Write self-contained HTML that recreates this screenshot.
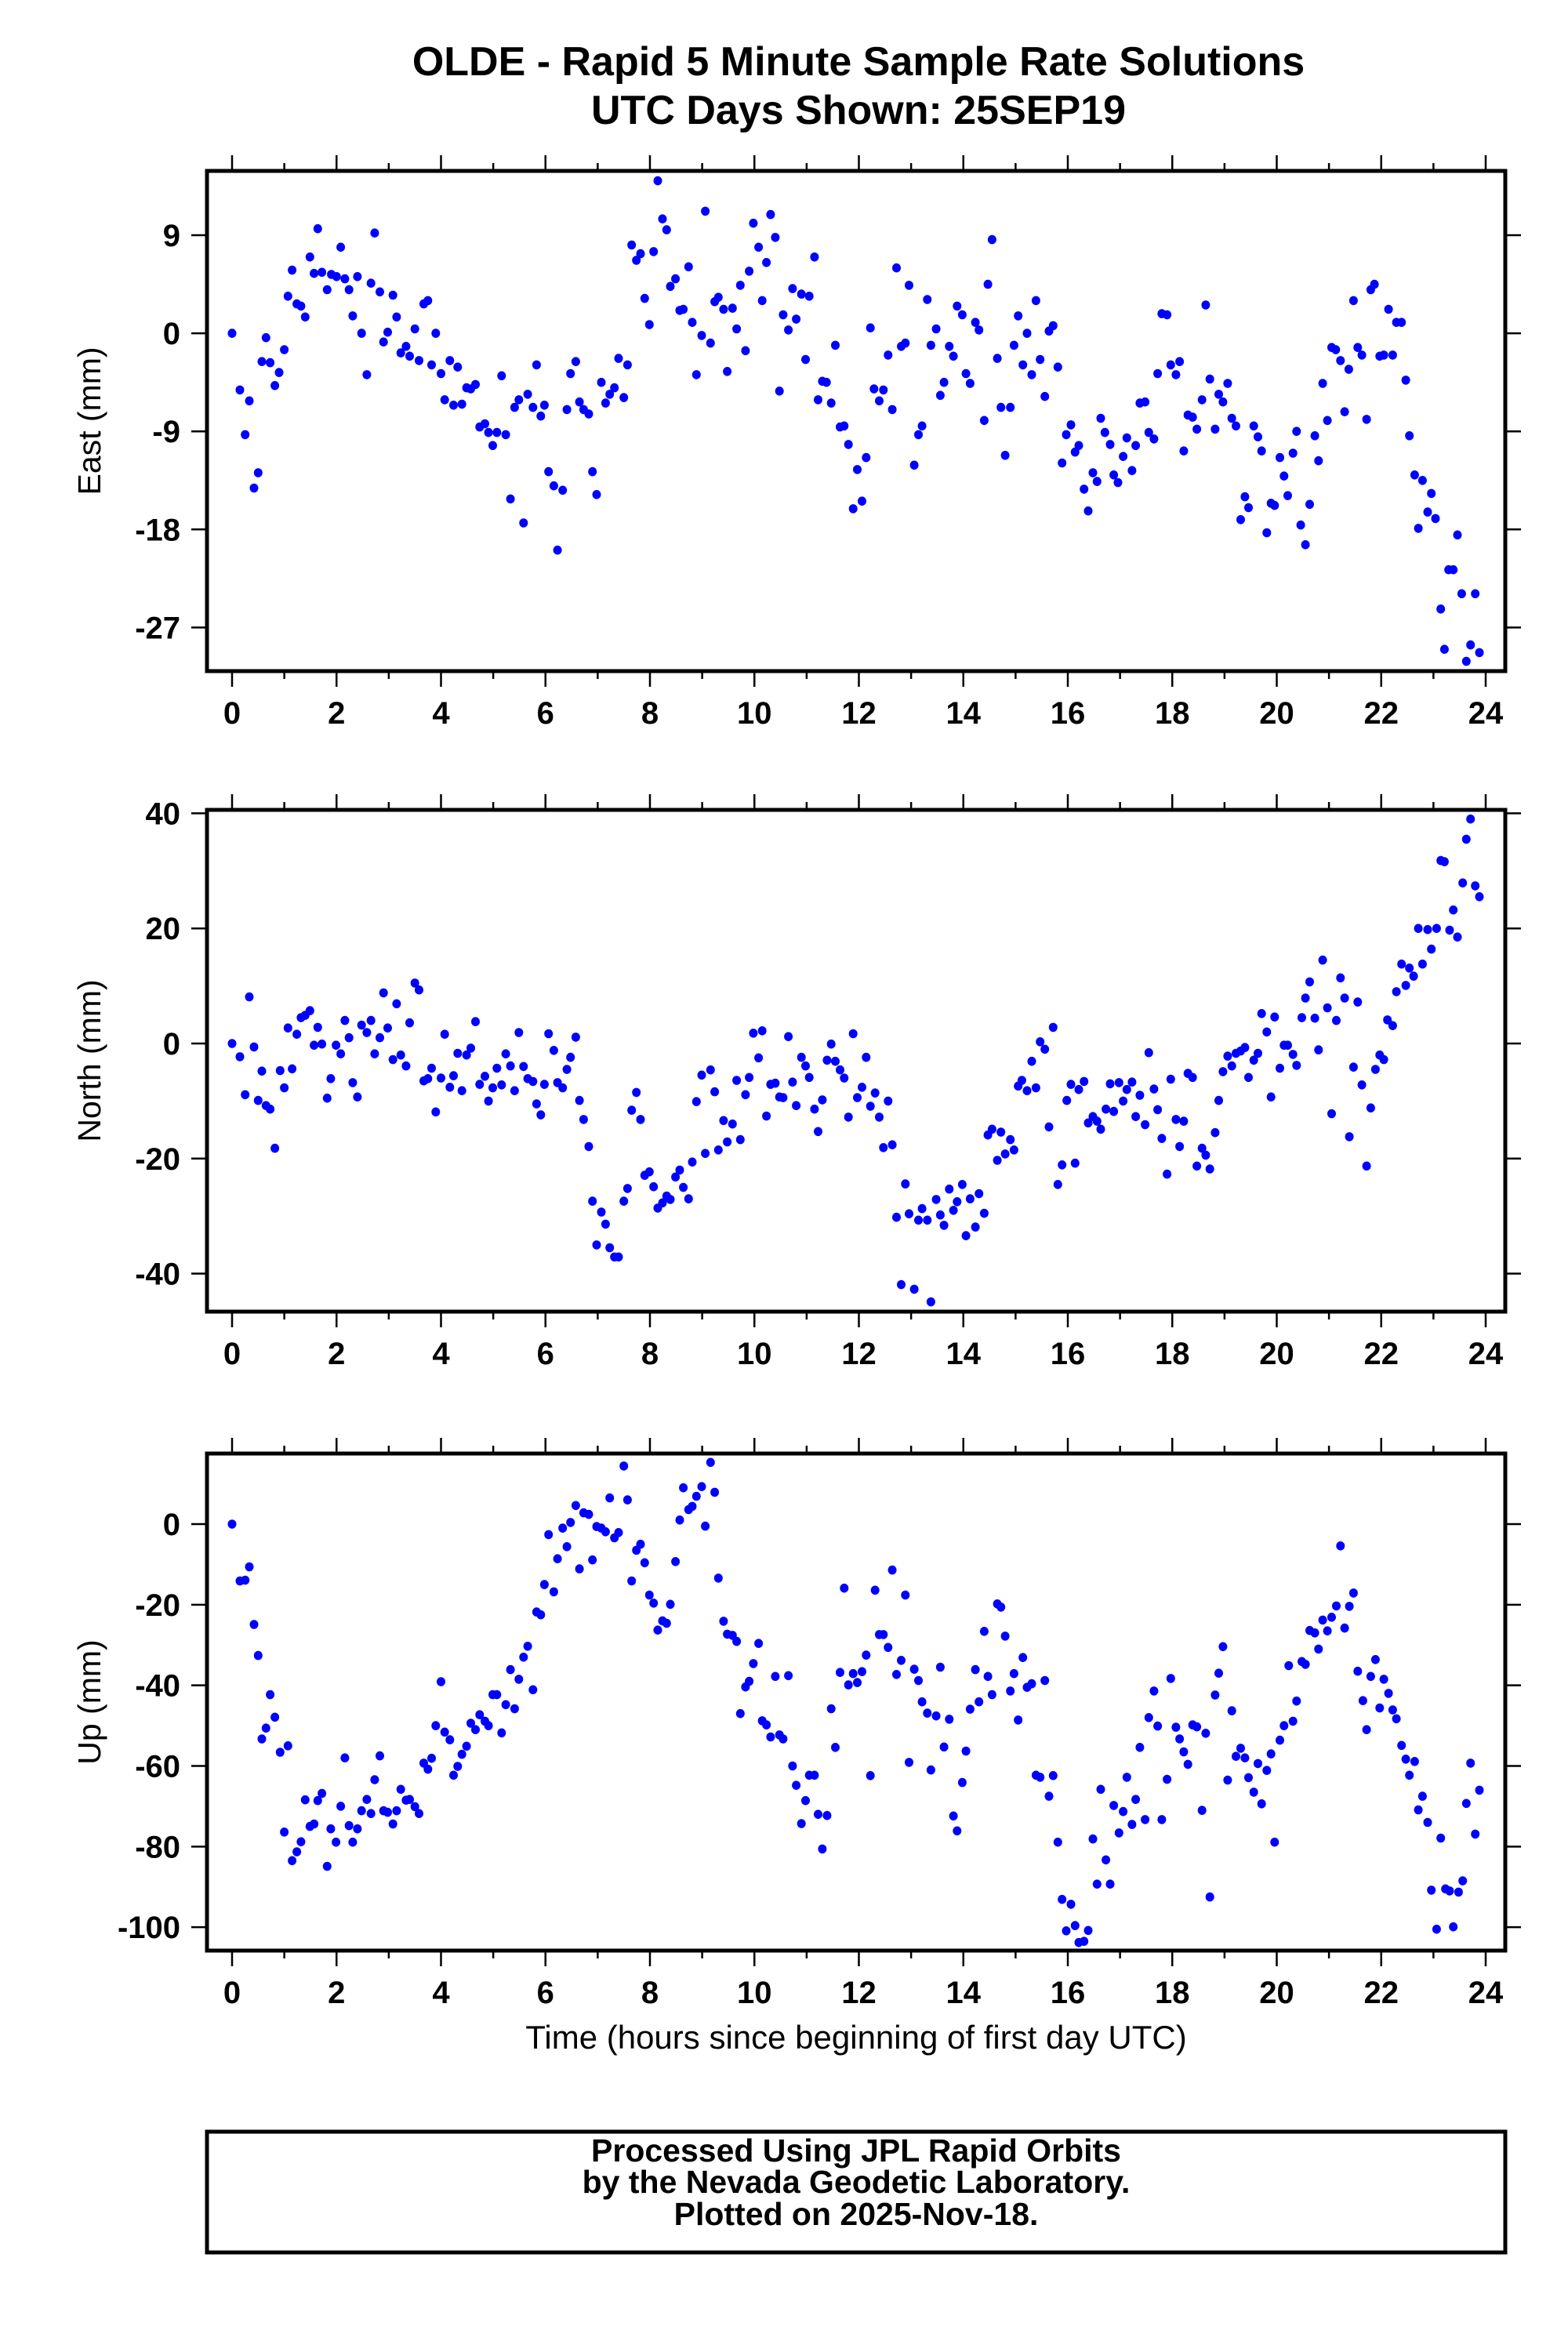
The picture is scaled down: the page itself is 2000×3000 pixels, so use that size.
<!DOCTYPE html>
<html><head><meta charset="utf-8"><style>
html,body{margin:0;padding:0;background:#fff}
svg{display:block}
text{font-family:"Liberation Sans",Arial,sans-serif}
</style></head><body>
<svg id="chart" width="2000" height="3000" viewBox="0 0 2000 3000" xmlns="http://www.w3.org/2000/svg">
<rect x="0" y="0" width="2000" height="3000" fill="#fff"/>
<text x="1095" y="96" font-size="52" font-weight="bold" text-anchor="middle">OLDE - Rapid 5 Minute Sample Rate Solutions</text>
<text x="1095" y="158" font-size="52" font-weight="bold" text-anchor="middle">UTC Days Shown:  25SEP19</text>
<text x="1092" y="2613" font-size="42" text-anchor="middle">Time (hours since beginning of first day UTC)</text>
<rect x="264" y="2719" width="1656" height="154" fill="none" stroke="#000" stroke-width="5"/>
<text x="1092" y="2757" font-size="41" font-weight="bold" text-anchor="middle">Processed Using JPL Rapid Orbits</text>
<text x="1092" y="2797" font-size="41" font-weight="bold" text-anchor="middle">by the Nevada Geodetic Laboratory.</text>
<text x="1092" y="2838" font-size="41" font-weight="bold" text-anchor="middle">Plotted on 2025-Nov-18.</text>
<g id="panels"></g>
</svg>
<script>
const xTickLabels = ["0","2","4","6","8","10","12","14","16","18","20","22","24"];
const eastTicks = [9,0,-9,-18,-27];
const northTicks = [40,20,0,-20,-40];
const upTicks = [0,-20,-40,-60,-80,-100];

const eastT = [0,0.15,0.25,0.33,0.42,0.5,0.57,0.65,0.73,0.82,0.9,1.0,1.07,1.15,1.24,1.32,1.4,1.49,1.57,1.64,1.72,1.82,1.9,2.0,2.08,2.16,2.24,2.31,2.4,2.48,2.58,2.66,2.73,2.83,2.9,2.98,3.08,3.15,3.23,3.33,3.4,3.5,3.58,3.67,3.75,3.82,3.9,4.0,4.07,4.17,4.24,4.32,4.4,4.49,4.57,4.66,4.74,4.84,4.91,4.99,5.07,5.16,5.24,5.33,5.41,5.49,5.58,5.66,5.76,5.83,5.91,5.98,6.06,6.16,6.23,6.33,6.41,6.48,6.58,6.65,6.73,6.83,6.9,6.98,7.07,7.15,7.23,7.32,7.4,7.5,7.57,7.65,7.74,7.82,7.9,7.99,8.07,8.15,8.24,8.32,8.39,8.49,8.57,8.64,8.74,8.81,8.89,8.99,9.06,9.16,9.24,9.31,9.41,9.48,9.58,9.66,9.73,9.83,9.9,9.98,10.08,10.15,10.23,10.31,10.4,10.48,10.55,10.65,10.73,10.8,10.9,10.98,11.05,11.15,11.22,11.3,11.38,11.47,11.55,11.64,11.72,11.8,11.89,11.97,12.06,12.14,12.22,12.29,12.39,12.47,12.56,12.64,12.72,12.81,12.89,12.96,13.06,13.14,13.21,13.31,13.38,13.48,13.56,13.63,13.73,13.81,13.88,13.98,14.05,14.13,14.23,14.3,14.4,14.47,14.55,14.65,14.72,14.8,14.9,14.97,15.05,15.14,15.22,15.31,15.39,15.47,15.56,15.64,15.72,15.81,15.89,15.97,16.06,16.14,16.21,16.31,16.39,16.48,16.56,16.63,16.71,16.81,16.88,16.96,17.06,17.13,17.23,17.3,17.38,17.48,17.55,17.65,17.72,17.8,17.9,17.97,18.07,18.14,18.22,18.3,18.39,18.47,18.57,18.64,18.72,18.82,18.89,18.97,19.06,19.14,19.22,19.31,19.39,19.46,19.56,19.64,19.71,19.81,19.89,19.96,20.06,20.14,20.21,20.31,20.38,20.46,20.55,20.63,20.73,20.8,20.88,20.97,21.05,21.13,21.22,21.3,21.38,21.47,21.55,21.63,21.72,21.8,21.87,21.97,22.05,22.14,22.22,22.29,22.39,22.47,22.54,22.64,22.71,22.79,22.89,22.96,23.04,23.14,23.21,23.29,23.38,23.46,23.54,23.63,23.71,23.8,23.88];
const eastV = [0,-5.2,-9.3,-6.2,-14.2,-12.8,-2.6,-0.4,-2.7,-4.8,-3.6,-1.5,3.4,5.8,2.7,2.5,1.5,7.0,5.5,9.6,5.6,4.0,5.4,5.2,7.9,5.0,4.0,1.6,5.2,0,-3.8,4.6,9.2,3.8,-0.8,0.1,3.5,1.5,-1.8,-1.2,-2.1,0.4,-2.5,2.7,3.0,-2.9,0,-3.7,-6.1,-2.5,-6.6,-3.1,-6.5,-5.0,-5.1,-4.7,-8.6,-8.3,-9.1,-10.3,-9.1,-3.9,-9.3,-15.2,-6.8,-6.1,-17.4,-5.6,-6.8,-2.9,-7.6,-6.6,-12.7,-14.0,-19.9,-14.4,-7.0,-3.7,-2.6,-6.3,-7.0,-7.4,-12.7,-14.8,-4.5,-6.4,-5.6,-5.0,-2.3,-5.9,-2.9,8.1,6.7,7.3,3.2,0.8,7.5,14.0,10.5,9.5,4.3,5.0,2.1,2.2,6.1,1.0,-3.8,-0.2,11.2,-0.9,2.9,3.3,2.2,-3.5,2.3,0.4,4.4,-1.6,5.7,10.1,7.9,3.0,6.5,10.9,8.8,-5.3,1.7,0.3,4.1,1.3,3.6,-2.4,3.4,7.0,-6.1,-4.4,-4.5,-6.4,-1.1,-8.6,-8.5,-10.2,-16.1,-12.5,-15.4,-11.4,0.5,-5.1,-6.2,-5.2,-2.0,-7.0,6.0,-1.2,-0.9,4.4,-12.1,-9.3,-8.5,3.1,-1.1,0.4,-5.7,-4.5,-1.2,-2.1,2.5,1.7,-3.7,-4.6,1.0,0.3,-8.0,4.5,8.6,-2.3,-6.8,-11.2,-6.8,-1.1,1.6,-2.9,0,-3.8,3.0,-2.4,-5.8,0.2,0.7,-3.1,-11.9,-9.3,-8.4,-10.9,-10.3,-14.3,-16.3,-12.8,-13.6,-7.8,-9.1,-10.2,-13.0,-13.7,-11.3,-9.6,-12.6,-10.3,-6.4,-6.3,-9.1,-9.7,-3.7,1.8,1.7,-2.9,-3.8,-2.6,-10.8,-7.5,-7.7,-8.8,-6.1,2.6,-4.2,-8.8,-5.6,-6.3,-4.6,-7.8,-8.5,-17.1,-15.0,-16.0,-8.5,-9.5,-10.8,-18.3,-15.6,-15.8,-11.4,-13.1,-14.9,-11.0,-9.0,-17.6,-19.4,-15.7,-9.4,-11.7,-4.6,-8.0,-1.3,-1.5,-2.5,-7.2,-3.3,3.0,-1.3,-2.0,-7.9,4.0,4.5,-2.1,-2.0,2.2,-2.0,1.0,1.0,-4.3,-9.4,-13.0,-17.9,-13.5,-16.4,-14.7,-17.0,-25.3,-29.0,-21.7,-21.7,-18.5,-23.9,-30.1,-28.6,-23.9,-29.3];

const northT = [0,0.15,0.25,0.33,0.42,0.5,0.57,0.65,0.73,0.82,0.92,1.0,1.07,1.15,1.24,1.32,1.4,1.49,1.57,1.64,1.72,1.82,1.89,1.99,2.08,2.16,2.24,2.31,2.4,2.48,2.58,2.66,2.73,2.83,2.9,2.98,3.08,3.15,3.23,3.33,3.4,3.5,3.58,3.67,3.75,3.82,3.9,4.0,4.07,4.17,4.24,4.32,4.4,4.49,4.57,4.66,4.74,4.84,4.91,4.99,5.07,5.16,5.24,5.33,5.41,5.49,5.58,5.66,5.76,5.83,5.91,5.98,6.06,6.16,6.23,6.33,6.41,6.48,6.58,6.65,6.73,6.83,6.9,6.98,7.07,7.15,7.23,7.32,7.4,7.5,7.57,7.65,7.74,7.82,7.9,7.99,8.07,8.15,8.24,8.32,8.39,8.49,8.57,8.64,8.74,8.81,8.89,8.99,9.06,9.16,9.24,9.31,9.41,9.48,9.58,9.66,9.73,9.83,9.9,9.98,10.08,10.15,10.23,10.31,10.4,10.48,10.55,10.65,10.73,10.8,10.9,10.98,11.05,11.15,11.22,11.3,11.39,11.47,11.55,11.64,11.72,11.8,11.89,11.97,12.06,12.14,12.22,12.31,12.39,12.47,12.56,12.64,12.72,12.81,12.89,12.96,13.06,13.14,13.21,13.31,13.38,13.48,13.56,13.63,13.73,13.81,13.88,13.98,14.05,14.13,14.23,14.3,14.4,14.47,14.55,14.65,14.72,14.8,14.9,14.97,15.05,15.12,15.22,15.31,15.39,15.47,15.56,15.64,15.72,15.81,15.89,15.98,16.06,16.14,16.21,16.31,16.39,16.48,16.56,16.63,16.73,16.81,16.88,16.98,17.06,17.13,17.23,17.3,17.38,17.48,17.55,17.65,17.72,17.8,17.9,17.97,18.07,18.14,18.22,18.3,18.39,18.47,18.57,18.64,18.72,18.82,18.89,18.97,19.06,19.14,19.22,19.31,19.39,19.46,19.56,19.64,19.71,19.81,19.89,19.96,20.06,20.14,20.21,20.31,20.38,20.48,20.55,20.63,20.73,20.8,20.88,20.97,21.05,21.14,21.22,21.3,21.39,21.47,21.55,21.63,21.72,21.8,21.89,21.97,22.05,22.12,22.22,22.29,22.39,22.47,22.54,22.62,22.71,22.79,22.89,22.96,23.06,23.14,23.21,23.31,23.38,23.46,23.56,23.63,23.71,23.8,23.88];
const northV = [0,-2.3,-8.9,8.1,-0.6,-9.9,-4.8,-10.8,-11.4,-18.2,-4.7,-7.7,2.7,-4.4,1.6,4.5,4.9,5.7,-0.3,2.8,-0.1,-9.5,-6.1,-0.3,-1.8,4.0,1.0,-6.8,-9.3,3.2,1.9,4.0,-1.8,1.0,8.8,2.7,-2.8,6.9,-2.0,-3.9,3.6,10.5,9.3,-6.5,-6.1,-4.3,-11.9,-6.0,1.6,-7.6,-5.6,-1.7,-8.2,-2.0,-0.8,3.8,-7.1,-5.7,-10.0,-7.7,-4.3,-7.2,-1.8,-3.9,-8.2,1.9,-4.0,-6.1,-6.6,-10.5,-12.4,-7.1,1.7,-1.2,-6.8,-7.7,-4.5,-2.4,1.1,-9.9,-13.2,-17.9,-27.4,-35.0,-29.3,-31.4,-35.5,-37.1,-37.1,-27.4,-25.2,-11.6,-8.5,-13.2,-22.9,-22.3,-24.9,-28.6,-27.7,-26.5,-27.1,-23.2,-22.0,-25.0,-27.0,-20.6,-10.1,-5.5,-19.1,-4.6,-8.4,-18.5,-13.4,-17.1,-14.0,-6.4,-16.7,-8.9,-5.9,1.8,-2.5,2.2,-12.6,-7.1,-6.9,-9.3,-9.4,1.2,-6.7,-10.8,-2.4,-3.9,-5.9,-11.4,-15.3,-9.8,-2.9,-0.1,-3.1,-4.6,-6.0,-12.8,1.7,-9.4,-7.6,-2.4,-10.9,-8.6,-12.8,-18.1,-10.0,-17.6,-30.2,-41.9,-24.4,-29.6,-42.7,-30.7,-28.7,-30.7,-44.9,-27.1,-29.8,-31.6,-25.3,-29.0,-27.5,-24.5,-33.4,-27.0,-31.9,-26.1,-29.5,-15.9,-14.9,-20.3,-15.4,-19.2,-16.7,-18.5,-7.4,-6.4,-8.2,-3.1,-7.7,0.3,-1.0,-14.5,2.8,-24.5,-21.1,-9.9,-7.1,-20.8,-8.0,-6.6,-13.8,-12.7,-13.5,-14.9,-11.4,-7.0,-11.8,-6.8,-10.0,-8.0,-6.7,-12.7,-9.0,-14.1,-1.6,-7.9,-11.5,-16.5,-22.7,-6.2,-13.2,-17.9,-13.5,-5.2,-5.9,-21.3,-18.2,-19.4,-21.8,-15.5,-9.9,-4.9,-2.2,-3.9,-1.7,-1.3,-0.7,-5.9,-2.9,-1.7,5.2,2.0,-9.3,4.6,-4.3,-0.3,-0.3,-1.9,-3.8,4.5,7.9,10.7,4.4,-1.1,14.5,6.2,-12.2,4.0,11.4,7.9,-16.2,-4.1,7.2,-7.2,-21.3,-11.2,-4.5,-2.0,-2.8,4.1,3.1,9.0,13.8,10.1,13.1,11.7,20.0,13.8,19.8,16.4,20.0,31.8,31.6,19.7,23.2,18.5,27.9,35.5,39.0,27.4,25.5];

const upT = [0,0.15,0.25,0.33,0.42,0.5,0.57,0.65,0.73,0.82,0.92,1.0,1.07,1.15,1.24,1.32,1.4,1.49,1.57,1.64,1.72,1.82,1.89,1.99,2.08,2.16,2.24,2.31,2.4,2.48,2.58,2.66,2.73,2.83,2.9,2.98,3.08,3.15,3.23,3.33,3.4,3.5,3.58,3.67,3.75,3.82,3.9,4.0,4.07,4.17,4.24,4.32,4.4,4.49,4.57,4.66,4.74,4.84,4.91,4.99,5.07,5.16,5.24,5.33,5.41,5.49,5.58,5.66,5.76,5.83,5.91,5.98,6.06,6.16,6.23,6.33,6.41,6.48,6.58,6.65,6.73,6.83,6.9,6.98,7.07,7.15,7.23,7.32,7.4,7.5,7.57,7.65,7.74,7.82,7.9,7.99,8.07,8.15,8.24,8.32,8.39,8.49,8.57,8.64,8.74,8.81,8.89,8.99,9.06,9.16,9.24,9.31,9.41,9.48,9.58,9.66,9.73,9.83,9.9,9.98,10.08,10.15,10.23,10.31,10.4,10.48,10.55,10.65,10.73,10.8,10.9,10.98,11.05,11.15,11.22,11.3,11.39,11.47,11.55,11.64,11.72,11.8,11.89,11.97,12.06,12.14,12.22,12.31,12.39,12.47,12.56,12.64,12.72,12.81,12.89,12.96,13.06,13.14,13.21,13.31,13.38,13.48,13.56,13.63,13.73,13.81,13.88,13.98,14.05,14.13,14.23,14.3,14.4,14.47,14.55,14.65,14.72,14.8,14.9,14.97,15.05,15.14,15.22,15.31,15.39,15.47,15.56,15.64,15.72,15.81,15.89,15.97,16.06,16.14,16.21,16.31,16.39,16.48,16.56,16.63,16.73,16.81,16.88,16.98,17.06,17.13,17.23,17.3,17.38,17.48,17.55,17.65,17.72,17.8,17.9,17.97,18.07,18.14,18.22,18.3,18.39,18.47,18.57,18.64,18.72,18.82,18.89,18.97,19.06,19.14,19.22,19.31,19.39,19.46,19.56,19.64,19.71,19.81,19.89,19.96,20.06,20.14,20.23,20.31,20.38,20.48,20.55,20.63,20.73,20.8,20.88,20.97,21.05,21.14,21.22,21.3,21.39,21.47,21.55,21.65,21.72,21.8,21.89,21.97,22.05,22.14,22.22,22.29,22.39,22.47,22.54,22.64,22.71,22.79,22.89,22.96,23.06,23.14,23.23,23.31,23.38,23.48,23.56,23.63,23.71,23.8,23.88];
const upV = [0,-14.1,-13.9,-10.6,-24.9,-32.6,-53.3,-50.6,-42.3,-47.9,-56.6,-76.4,-55.0,-83.5,-81.3,-78.8,-68.4,-75.0,-74.4,-68.6,-66.8,-84.9,-75.6,-78.9,-70.0,-58.0,-74.8,-78.9,-75.6,-71.1,-68.3,-71.8,-63.4,-57.5,-71.1,-71.5,-74.4,-71.1,-65.8,-68.5,-68.3,-70.1,-71.8,-59.3,-60.8,-58.1,-50.0,-39.1,-51.6,-53.5,-62.3,-60.1,-57.1,-55.1,-49.4,-51.0,-47.3,-48.9,-50.0,-42.3,-42.3,-51.8,-44.8,-36.1,-45.8,-38.5,-33.0,-30.3,-41.1,-21.8,-22.5,-15.0,-2.6,-16.8,-8.6,-1.0,-5.6,0.4,4.6,-11.1,2.8,2.4,-8.9,-0.6,-1.0,-1.9,6.5,-3.4,-2.1,14.4,6.0,-14.1,-6.5,-5.0,-9.6,-17.6,-19.6,-26.3,-24.0,-24.6,-19.9,-9.3,1.0,9.0,3.6,4.4,6.9,9.3,-0.5,15.3,7.9,-13.4,-24.1,-27.3,-27.6,-29.1,-47.0,-40.4,-39.0,-34.6,-29.6,-48.8,-49.8,-52.8,-37.8,-52.3,-53.3,-37.6,-60.0,-64.8,-74.3,-68.6,-62.3,-62.3,-72.0,-80.6,-72.3,-45.8,-55.4,-36.8,-15.9,-39.9,-37.1,-39.3,-36.6,-32.5,-62.4,-16.4,-27.4,-27.4,-30.6,-11.4,-37.3,-33.8,-17.6,-59.1,-36.0,-38.8,-44.1,-46.9,-61.0,-47.6,-35.5,-55.3,-48.4,-72.4,-76.1,-64.1,-56.3,-45.9,-36.1,-44.1,-26.6,-37.8,-42.3,-19.8,-20.6,-27.8,-41.4,-37.1,-48.6,-33.1,-40.5,-39.6,-62.3,-62.8,-38.8,-67.5,-62.4,-78.9,-93.1,-100.9,-94.3,-99.6,-103.8,-103.5,-100.8,-78.1,-89.3,-65.8,-83.3,-89.3,-69.8,-76.6,-71.3,-62.8,-74.5,-68.3,-55.4,-73.3,-48.0,-41.4,-50.1,-73.3,-63.3,-38.3,-50.4,-53.3,-56.5,-59.6,-49.8,-50.3,-71.0,-51.9,-92.5,-42.4,-37.0,-30.4,-63.5,-46.3,-57.6,-55.6,-58.0,-62.9,-66.5,-59.4,-69.4,-61.1,-57.0,-78.9,-53.6,-50.0,-35.1,-48.9,-43.9,-34.1,-34.8,-26.4,-27.0,-31.0,-23.8,-26.5,-23.1,-20.3,-5.4,-25.8,-20.4,-17.1,-36.5,-43.8,-51.0,-37.8,-33.6,-45.6,-38.5,-42.0,-46.1,-48.3,-54.9,-58.3,-62.3,-58.9,-70.9,-67.5,-74.0,-90.8,-100.5,-77.9,-90.5,-91.0,-99.9,-91.3,-88.5,-69.3,-59.3,-76.9,-66.0];

const NS = "http://www.w3.org/2000/svg";
const X0 = 264, X1 = 1920;
function xScale(t){ return 296 + t * (1895 - 296) / 24; }
function mk(tag, attrs){ const e = document.createElementNS(NS, tag); for (const k in attrs) e.setAttribute(k, attrs[k]); return e; }

const panels = [
  {key:"east", label:"East (mm)", top:218, bottom:856, vmax:14.9, vmin:-31.0, ticks:eastTicks, t:eastT, v:eastV},
  {key:"north", label:"North (mm)", top:1033, bottom:1673, vmax:40.6, vmin:-46.6, ticks:northTicks, t:northT, v:northV},
  {key:"up", label:"Up (mm)", top:1854, bottom:2488, vmax:17.5, vmin:-105.8, ticks:upTicks, t:upT, v:upV}
];
const root = document.getElementById("panels");

panels.forEach(p => {
  const yScale = v => p.top + (p.vmax - v) / (p.vmax - p.vmin) * (p.bottom - p.top);
  const g = mk("g", {});
  
  
  root.appendChild(g);

  const pts = mk("g", {fill:"#0000ff"});
  
  
  g.appendChild(pts);
  for (let i = 0; i < p.t.length; i++) {
    const c = mk("ellipse", {cx:xScale(p.t[i]).toFixed(1), cy:yScale(p.v[i]).toFixed(1), rx:5.5, ry:5.8});
    
    
    pts.appendChild(c);
  }

  const ticks = mk("g", {stroke:"#000", "stroke-width":2.5});
  
  
  g.appendChild(ticks);
  for (let h = 0; h <= 24; h++) {
    const x = xScale(h);
    const len = (h % 2 === 0) ? 20 : 10;
    ticks.appendChild(mk("line", {x1:x, x2:x, y1:p.top, y2:p.top - len}));
    ticks.appendChild(mk("line", {x1:x, x2:x, y1:p.bottom, y2:p.bottom + len}));
  }
  xTickLabels.forEach((lab, i) => {
    const tx = mk("text", {x:xScale(i * 2), y:p.bottom + 67, "font-size":40, "font-weight":"bold", "text-anchor":"middle"});
    
    
    tx.textContent = lab;
    g.appendChild(tx);
  });
  p.ticks.forEach(v => {
    const y = yScale(v);
    ticks.appendChild(mk("line", {x1:X0, x2:X0 - 20, y1:y, y2:y}));
    ticks.appendChild(mk("line", {x1:X1, x2:X1 + 20, y1:y, y2:y}));
    const tx = mk("text", {x:X0 - 34, y:y + 14, "font-size":40, "font-weight":"bold", "text-anchor":"end"});
    
    
    tx.textContent = String(v);
    g.appendChild(tx);
  });

  const frame = mk("rect", {x:X0, y:p.top, width:X1 - X0, height:p.bottom - p.top, fill:"none", stroke:"#000", "stroke-width":5});
  
  
  g.appendChild(frame);

  const cy = (p.top + p.bottom) / 2;
  const yl = mk("text", {x:128, y:cy, "font-size":41, "text-anchor":"middle", transform:"rotate(-90 128 " + cy + ")"});
  
  
  yl.textContent = p.label;
  g.appendChild(yl);
});
</script>
</body></html>
